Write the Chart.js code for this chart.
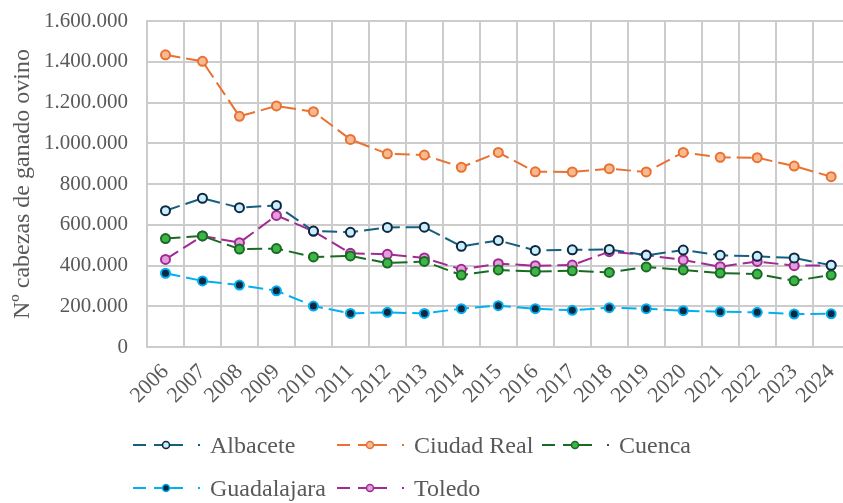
<!DOCTYPE html>
<html>
<head>
<meta charset="utf-8">
<script src="https://cdn.jsdelivr.net/npm/chart.js@4/dist/chart.umd.min.js"></script>
<style>
  html, body { margin: 0; padding: 0; background: #fff; }
  #wrap { position: relative; width: 843px; height: 503px; overflow: hidden; }
  #chart { position: absolute; left: 0; top: 0; }
  .leg { position: absolute; font-family: "Liberation Serif", serif; font-size: 24px; color: #595959; white-space: nowrap; line-height: 24px; }
  .leg svg { position: absolute; left: 0; top: 5px; }
  .leg span { position: absolute; left: 77px; top: 0; }
</style>
</head>
<body>
<div id="wrap">
  <canvas id="chart" width="862" height="503"></canvas>
  <div id="legend"></div>
</div>
<script>
  const years = ["2006", "2007", "2008", "2009", "2010", "2011", "2012", "2013", "2014", "2015",
    "2016", "2017", "2018", "2019", "2020", "2021", "2022", "2023", "2024"];

  const albacete = [669000, 730000, 684000, 695000, 569000, 563000, 587000, 588000, 494000, 523000,
    474000, 477000, 479000, 450000, 476000, 450000, 445000, 437000, 401000];
  const ciudadReal = [1434000, 1402000, 1132000, 1183000, 1155000, 1019000, 948000, 942000, 882000, 955000,
    860000, 859000, 875000, 859000, 955000, 931000, 929000, 888000, 836000];
  const cuenca = [532000, 545000, 481000, 483000, 442000, 447000, 412000, 420000, 353000, 378000,
    371000, 374000, 366000, 393000, 378000, 363000, 358000, 325000, 353000];
  const guadalajara = [362000, 324000, 304000, 276000, 201000, 165000, 170000, 165000, 188000, 203000,
    188000, 180000, 193000, 188000, 178000, 173000, 170000, 162000, 163000];
  const toledo = [430000, 545000, 512000, 646000, 568000, 460000, 455000, 437000, 381000, 409000,
    399000, 402000, 468000, 451000, 427000, 394000, 420000, 399000, 401000];

  const yMax = 1600000;
  const yStep = 200000;
  const yTitle = "Nº cabezas de ganado ovino";

  const series = [
    { label: "Albacete", data: albacete, line: "#156082", fill: "#caeefb", edge: "#0e2841" },
    { label: "Ciudad Real", data: ciudadReal, line: "#e97132", fill: "#f7b98f", edge: "#e97132" },
    { label: "Cuenca", data: cuenca, line: "#196b24", fill: "#3fb447", edge: "#196b24" },
    { label: "Guadalajara", data: guadalajara, line: "#00b0f0", fill: "#0e2841", edge: "#00b0f0" },
    { label: "Toledo", data: toledo, line: "#a02b93", fill: "#e49edd", edge: "#a02b93" },
  ];

  const font = "'Liberation Serif', 'Times New Roman', serif";
  const grey = "#595959";
  const gridColor = "#cccccc";

  function fmt(v) {
    return String(v).replace(/\B(?=(\d{3})+(?!\d))/g, ".");
  }

  new Chart(document.getElementById("chart").getContext("2d"), {
    type: "line",
    data: {
      labels: years,
      datasets: series.map((s) => ({
        label: s.label,
        data: s.data,
        borderColor: s.line,
        borderWidth: 2,
        borderDash: [15, 6],
        pointRadius: 4.5,
        pointBorderWidth: 2,
        pointBackgroundColor: s.fill,
        pointBorderColor: s.edge,
        tension: 0,
        fill: false,
      })),
    },
    options: {
      responsive: false,
      devicePixelRatio: 1,
      animation: false,
      layout: { padding: { top: 21, right: 0, left: 0, bottom: 0 } },
      plugins: { legend: { display: false }, tooltip: { enabled: false } },
      scales: {
        x: {
          offset: true,
          grid: { offset: true, color: gridColor, lineWidth: 2, drawTicks: false },
          border: { color: gridColor, width: 2 },
          ticks: {
            autoSkip: false,
            minRotation: 45,
            maxRotation: 45,
            padding: 12,
            color: grey,
            font: { family: font, size: 22 },
          },
          afterFit: (s) => { s.height = 156; },
        },
        y: {
          min: 0,
          max: yMax,
          grid: { color: gridColor, lineWidth: 2, drawTicks: false },
          border: { color: gridColor, width: 2 },
          ticks: {
            stepSize: yStep,
            padding: 19,
            color: grey,
            font: { family: font, size: 21 },
            callback: (v) => fmt(v),
          },
          title: {
            display: true,
            text: yTitle,
            color: grey,
            font: { family: font, size: 24 },
            padding: { top: 8, bottom: 0 },
          },
          afterFit: (s) => {
            s.width = 147;
            s.paddingTop = 0;
            s.paddingBottom = 0;
          },
        },
      },
    },
  });

  // legend laid out like the spreadsheet one: fixed columns, two rows
  const legendPos = [[133, 433], [337, 433], [542, 433], [133, 476], [337, 476]];
  const legend = document.getElementById("legend");
  series.forEach((s, i) => {
    const item = document.createElement("div");
    item.className = "leg";
    item.style.left = legendPos[i][0] + "px";
    item.style.top = legendPos[i][1] + "px";
    item.style.width = "200px";
    item.style.height = "24px";
    item.innerHTML =
      `<svg width="70" height="14"><line x1="0" y1="7" x2="68" y2="7" stroke="${s.line}" stroke-width="2" stroke-dasharray="13 8 29 15 2"/>` +
      `<circle cx="33" cy="7" r="3.5" fill="${s.fill}" stroke="${s.edge}" stroke-width="1.5"/></svg>` +
      `<span>${s.label}</span>`;
    legend.appendChild(item);
  });
</script>
</body>
</html>
